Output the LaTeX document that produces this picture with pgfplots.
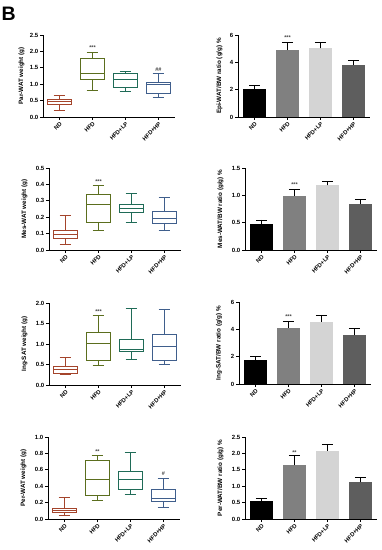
\documentclass[border=0pt]{standalone}
\usepackage{pgfplots}
\pgfplotsset{compat=1.18}
\usepgfplotslibrary{statistics}
\usepackage{fontspec}
\setmainfont{Liberation Sans}
\definecolor{cND}{HTML}{A4442B}
\definecolor{cHFD}{HTML}{5B6E1E}
\definecolor{cLP}{HTML}{1F6B57}
\definecolor{cHP}{HTML}{3F5E8C}
\definecolor{bHFD}{HTML}{808080}
\definecolor{bLP}{HTML}{D4D4D4}
\definecolor{bHP}{HTML}{5E5E5E}
\tikzset{st/.style={font=\fontsize{5.5}{5.5}\selectfont\bfseries, text=black!75, inner sep=0pt}}
\pgfplotsset{
  panel/.style={
    scale only axis, width=132pt, height=82pt,
    xmin=-0.5, xmax=3.5, ymin=0,
    axis x line=bottom, axis y line=left,
    axis line style={line width=0.9pt, -},
    every tick/.style={black, line width=0.8pt},
    tick align=outside, major tick length=3pt,
    xtick={0,1,2,3}, xticklabels={ND,HFD,HFD+LP,HFD+HP},
    x tick label style={rotate=45, anchor=north east, font=\fontsize{5.8}{6}\selectfont\bfseries, inner sep=1pt},
    y tick label style={font=\fontsize{6}{6}\selectfont\bfseries, inner sep=1.5pt},
    /pgf/number format/assume math mode=true,
    /pgf/number format/fixed, /pgf/number format/fixed zerofill, /pgf/number format/precision=1,
    ylabel style={font=\fontsize{6.3}{7}\selectfont\bfseries, anchor=center},
    clip=false,
  },
  bx/.style 2 args={line width=0.9pt, fill=white, solid,
    boxplot/draw direction=y,
    boxplot prepared={draw position=#1, #2, box extend=0.7, whisker extend=0.35}},
  br/.style={ybar, bar width=23pt, bar shift=0pt, draw=none,
    error bars/y dir=plus, error bars/y explicit,
    error bars/error bar style={black, line width=0.8pt},
    error bars/error mark options={rotate=90, mark size=5.5pt, line width=0.8pt, black}},
}
\begin{document}
\begin{tikzpicture}
\useasboundingbox (0pt,0pt) rectangle (381pt,550pt);
\node[anchor=base west, inner sep=0pt, font=\fontsize{19.5}{20}\selectfont\bfseries] at (1.5pt,529pt) {B};

% Panel 1: Par-WAT box
\begin{axis}[panel, at={(43pt,433pt)}, anchor=south west, ymax=2.5, ytick={0,0.5,...,2.5},
  ylabel={Par-WAT weight (g)}, ylabel style={at={(axis description cs:-0.162,0.5)}}]
\addplot[cND, bx={0}{lower whisker=0.20, lower quartile=0.39, median=0.46, upper quartile=0.55, upper whisker=0.67}] coordinates {};
\addplot[cHFD, bx={1}{lower whisker=0.81, lower quartile=1.15, median=1.32, upper quartile=1.78, upper whisker=1.96}] coordinates {};
\addplot[cLP, bx={2}{lower whisker=0.77, lower quartile=0.89, median=1.13, upper quartile=1.32, upper whisker=1.40}] coordinates {};
\addplot[cHP, bx={3}{lower whisker=0.61, lower quartile=0.71, median=0.99, upper quartile=1.06, upper whisker=1.32}] coordinates {};
\node[st] at (axis cs:1,2.12) {***};
\node[st] at (axis cs:3,1.45) {\#\#};
\end{axis}

% Panel 2: Epi ratio bars
\begin{axis}[panel, at={(238pt,433pt)}, anchor=south west, ymax=6, ytick={0,2,4,6},
  /pgf/number format/precision=0,
  ylabel={Epi-WAT/BW ratio (g/g) \%}, ylabel style={at={(axis description cs:-0.14,0.5)}}]
\addplot[br, fill=black] coordinates {(0,2.08) +- (0,0.20)};
\addplot[br, fill=bHFD] coordinates {(1,4.90) +- (0,0.54)};
\addplot[br, fill=bLP] coordinates {(2,5.02) +- (0,0.42)};
\addplot[br, fill=bHP] coordinates {(3,3.80) +- (0,0.37)};
\node[st] at (axis cs:1,5.81) {***};
\end{axis}

% Panel 3: Mes-WAT box
\begin{axis}[panel, at={(49pt,300pt)}, anchor=south west, ymax=0.5, ytick={0,0.1,...,0.5},
  ylabel={Mes-WAT weight (g)}, ylabel style={at={(axis description cs:-0.186,0.5)}}]
\addplot[cND, bx={0}{lower whisker=0.031, lower quartile=0.070, median=0.093, upper quartile=0.118, upper whisker=0.21}] coordinates {};
\addplot[cHFD, bx={1}{lower whisker=0.122, lower quartile=0.169, median=0.277, upper quartile=0.337, upper whisker=0.393}] coordinates {};
\addplot[cLP, bx={2}{lower whisker=0.169, lower quartile=0.231, median=0.252, upper quartile=0.279, upper whisker=0.347}] coordinates {};
\addplot[cHP, bx={3}{lower whisker=0.12, lower quartile=0.159, median=0.19, upper quartile=0.236, upper whisker=0.318}] coordinates {};
\node[st] at (axis cs:1,0.42) {***};
\end{axis}

% Panel 4: Mes ratio bars
\begin{axis}[panel, at={(245pt,300pt)}, anchor=south west, ymax=1.5, ytick={0,0.5,1,1.5},
  ylabel={Mes-WAT/BW ratio (g/g) \%}, ylabel style={at={(axis description cs:-0.186,0.5)}}]
\addplot[br, fill=black] coordinates {(0,0.477) +- (0,0.073)};
\addplot[br, fill=bHFD] coordinates {(1,0.99) +- (0,0.11)};
\addplot[br, fill=bLP] coordinates {(2,1.18) +- (0,0.08)};
\addplot[br, fill=bHP] coordinates {(3,0.84) +- (0,0.08)};
\node[st] at (axis cs:1,1.19) {***};
\end{axis}

% Panel 5: Ing-SAT box
\begin{axis}[panel, at={(49pt,165pt)}, anchor=south west, ymax=2, ytick={0,0.5,...,2},
  ylabel={Ing-SAT weight (g)}, ylabel style={at={(axis description cs:-0.186,0.5)}}]
\addplot[cND, bx={0}{lower whisker=0.25, lower quartile=0.29, median=0.37, upper quartile=0.45, upper whisker=0.68}] coordinates {};
\addplot[cHFD, bx={1}{lower whisker=0.47, lower quartile=0.60, median=1.02, upper quartile=1.29, upper whisker=1.70}] coordinates {};
\addplot[cLP, bx={2}{lower whisker=0.63, lower quartile=0.81, median=0.86, upper quartile=1.12, upper whisker=1.86}] coordinates {};
\addplot[cHP, bx={3}{lower whisker=0.49, lower quartile=0.61, median=0.94, upper quartile=1.24, upper whisker=1.84}] coordinates {};
\node[st] at (axis cs:1,1.79) {***};
\end{axis}

% Panel 6: Ing ratio bars
\begin{axis}[panel, at={(239pt,166pt)}, anchor=south west, ymax=6, ytick={0,2,4,6},
  /pgf/number format/precision=0,
  ylabel={Ing-SAT/BW ratio (g/g) \%}, ylabel style={at={(axis description cs:-0.152,0.5)}}]
\addplot[br, fill=black] coordinates {(0,1.77) +- (0,0.22)};
\addplot[br, fill=bHFD] coordinates {(1,4.13) +- (0,0.47)};
\addplot[br, fill=bLP] coordinates {(2,4.55) +- (0,0.50)};
\addplot[br, fill=bHP] coordinates {(3,3.58) +- (0,0.47)};
\node[st] at (axis cs:1,4.9) {***};
\end{axis}

% Panel 7: Per-WAT box
\begin{axis}[panel, at={(48pt,31pt)}, anchor=south west, ymax=1, ytick={0,0.2,...,1},
  ylabel={Per-WAT weight (g)}, ylabel style={at={(axis description cs:-0.186,0.5)}}]
\addplot[cND, bx={0}{lower whisker=0.049, lower quartile=0.082, median=0.106, upper quartile=0.13, upper whisker=0.257}] coordinates {};
\addplot[cHFD, bx={1}{lower whisker=0.224, lower quartile=0.286, median=0.486, upper quartile=0.72, upper whisker=0.78}] coordinates {};
\addplot[cLP, bx={2}{lower whisker=0.298, lower quartile=0.363, median=0.486, upper quartile=0.576, upper whisker=0.81}] coordinates {};
\addplot[cHP, bx={3}{lower whisker=0.139, lower quartile=0.208, median=0.253, upper quartile=0.363, upper whisker=0.494}] coordinates {};
\node[st] at (axis cs:1,0.82) {**};
\node[st] at (axis cs:3,0.555) {\#};
\end{axis}

% Panel 8: Per ratio bars
\begin{axis}[panel, at={(245pt,31pt)}, anchor=south west, ymax=2.5, ytick={0,0.5,...,2.5},
  ylabel={Per-WAT/BW ratio (g/g) \%}, ylabel style={at={(axis description cs:-0.186,0.5)}}]
\addplot[br, fill=black] coordinates {(0,0.54) +- (0,0.09)};
\addplot[br, fill=bHFD] coordinates {(1,1.64) +- (0,0.30)};
\addplot[br, fill=bLP] coordinates {(2,2.08) +- (0,0.20)};
\addplot[br, fill=bHP] coordinates {(3,1.12) +- (0,0.15)};
\node[st] at (axis cs:1,2.02) {**};
\end{axis}
\end{tikzpicture}
\end{document}
